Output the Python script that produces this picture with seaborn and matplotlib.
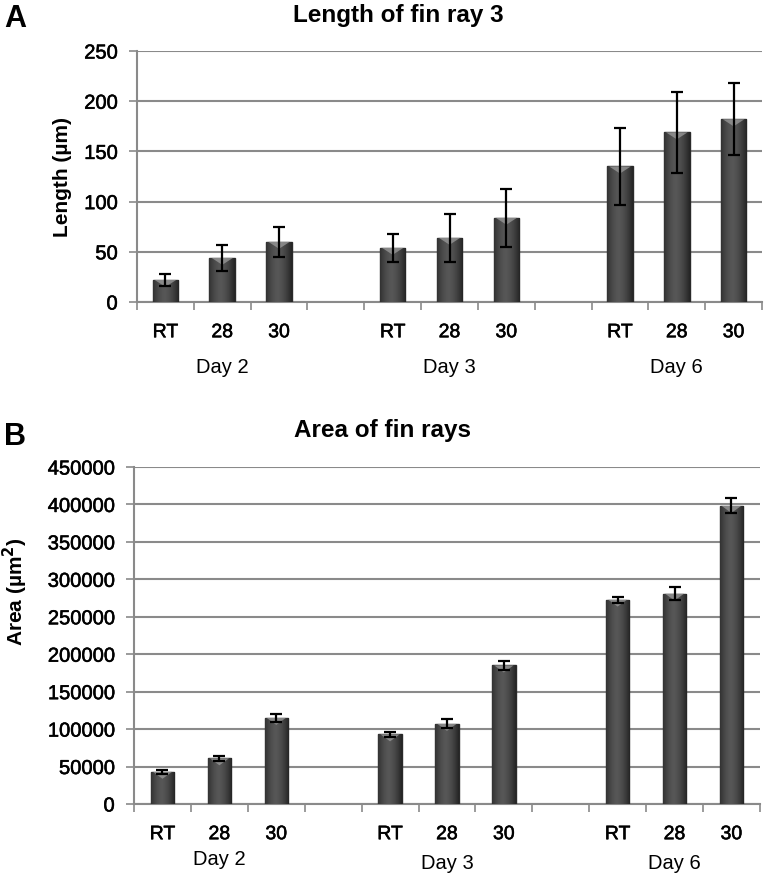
import matplotlib
matplotlib.use("Agg")
import matplotlib.pyplot as plt
import matplotlib.transforms as mtransforms
import matplotlib.patheffects as pe
from matplotlib.patches import Polygon
import seaborn as sns
import pandas as pd
import numpy as np

# ---- data ----
days = ["Day 2", "Day 3", "Day 6"]
temps = ["RT", "28", "30"]
length_mean = [22, 44, 60, 54, 64, 84, 135, 169, 182]
length_err = [6, 13, 15, 14, 24, 29, 38, 40, 36]
area_mean = [43000, 61000, 115000, 93000, 107000, 185000, 273000, 281000, 398000]
area_err = [3000, 3000, 5000, 3000, 6000, 6000, 4000, 9000, 10000]
length_ticks = [0, 50, 100, 150, 200, 250]
area_ticks = [0, 50000, 100000, 150000, 200000, 250000, 300000, 350000, 400000, 450000]

sns.set_theme(style="white")
plt.rcParams["font.family"] = ["Liberation Sans", "DejaVu Sans"]
plt.rcParams["text.color"] = "black"
plt.rcParams["xtick.labelcolor"] = "black"
plt.rcParams["ytick.labelcolor"] = "black"

heavy = [pe.withStroke(linewidth=0.4, foreground="black")]

# category order with empty gap slots between days
order = []
for i, d in enumerate(days):
    for t in temps:
        order.append(f"{d}|{t}")
    if i < len(days) - 1:
        order.append(f"gap{i}")

cats = [f"{d}|{t}" for d in days for t in temps]
df_len = pd.DataFrame({"cat": cats, "value": length_mean, "err": length_err})
df_area = pd.DataFrame({"cat": cats, "value": area_mean, "err": area_err})

fig = plt.figure(figsize=(7.66, 8.8), dpi=100)
ax1 = fig.add_axes([0.1789, 0.6568, 0.8159, 0.2852])
ax2 = fig.add_axes([0.175, 0.0864, 0.817, 0.3829])

bar_color = "#474747"
grid_color = "#8a8a8a"

# horizontal shading profile for the bars (dark edges, lighter middle)
xs = np.linspace(-1, 1, 64)
shade = np.clip(0.17 + 0.17 * (1 - np.abs(xs + 0.1) ** 1.6), 0, 1)
grad_img = np.stack([shade, shade, shade, np.ones_like(shade)], axis=-1)[None, :, :]


def shade_bars(ax):
    for p in list(ax.patches):
        h = p.get_height()
        if not np.isfinite(h) or h <= 0:
            continue
        x0, y0 = p.get_x(), p.get_y()
        w = p.get_width()
        im = ax.imshow(grad_img, extent=(x0, x0 + w, y0, y0 + h), aspect="auto",
                       interpolation="bilinear", zorder=3.1)
        im.set_clip_path(p)
        # light bevel wedge at top of each bar (in inch offsets from bar top)
        bw_in = w / (ax.get_xlim()[1] - ax.get_xlim()[0]) * ax.get_position().width * fig.get_figwidth()
        tr = fig.dpi_scale_trans + mtransforms.ScaledTranslation(x0 + w / 2, y0 + h, ax.transData)
        wedge = Polygon([(-bw_in / 2 + 0.02, 0), (bw_in / 2 - 0.02, 0), (0, -0.07)],
                        closed=True, transform=tr, facecolor="#a0a0a0",
                        edgecolor="none", alpha=0.7, zorder=3.2)
        ax.add_patch(wedge)
    ax.set_xlim(-0.5, len(order) - 0.5)


def draw(ax, df, ticks, width, ylabel, day_ys, ylabel_xy, ylabel_size):
    sns.barplot(data=df, x="cat", y="value", order=order, color=bar_color,
                width=width, edgecolor="#2a2a2a", linewidth=1.0, saturation=1,
                errorbar=None, ax=ax, zorder=3)
    ax.set_ylim(ticks[0], ticks[-1])
    ax.set_xlim(-0.5, len(order) - 0.5)
    pos = [order.index(c) for c in df["cat"]]
    shade_bars(ax)
    ax.set_ylim(ticks[0], ticks[-1])
    ax.errorbar(pos, df["value"], yerr=df["err"], fmt="none", ecolor="black",
                elinewidth=1.6, capsize=4.5, capthick=1.6, zorder=4)
    ax.set_yticks(ticks)
    ax.set_yticklabels([str(t) for t in ticks], fontsize=14.5)
    ax.yaxis.grid(True, color=grid_color, linewidth=1.5, zorder=0)
    ax.xaxis.grid(False)
    ax.set_axisbelow(True)
    for s in ["top", "right"]:
        ax.spines[s].set_visible(False)
    for s in ["left", "bottom"]:
        ax.spines[s].set_color(grid_color)
        ax.spines[s].set_linewidth(1.5)
    ax.tick_params(axis="y", length=6, width=1.2, color=grid_color, left=True, pad=8)
    ax.set_xticks(pos)
    ax.set_xticklabels([c.split("|")[1] for c in df["cat"]], fontsize=14)
    ax.tick_params(axis="x", which="major", length=0, pad=16)
    ax.set_xticks(np.arange(-0.5, len(order) + 0.5, 1.0), minor=True)
    ax.tick_params(axis="x", which="minor", length=6, width=1.2, color=grid_color, bottom=True)
    for lab in ax.get_xticklabels() + ax.get_yticklabels():
        lab.set_path_effects(heavy)
    ax.set_xlabel("")
    ax.set_ylabel("")
    trans = mtransforms.blended_transform_factory(ax.transData, ax.transAxes)
    for k, d in enumerate(days):
        centre = order.index(f"{d}|28")
        ax.text(centre, day_ys[k], d, transform=trans, ha="center", va="center",
                fontsize=14.5)
    ax.text(ylabel_xy[0], ylabel_xy[1], ylabel, transform=ax.transAxes, rotation=90,
            ha="center", va="center", fontsize=ylabel_size, fontweight="bold")


draw(ax1, df_len, length_ticks, 0.45, "Length (µm)",
     [-0.259, -0.259, -0.259], (-0.12, 0.5), 15)
draw(ax2, df_area, area_ticks, 0.41, "Area (µm$^{\\mathbf{2}}$)",
     [-0.166, -0.178, -0.178], (-0.19, 0.629), 15)

fig.text(398 / 766, 1 - 22 / 880, "Length of fin ray 3", fontsize=17.5,
         fontweight="bold", ha="center", va="baseline")
fig.text(383 / 766, 1 - 437 / 880, "Area of fin rays", fontsize=17.5,
         fontweight="bold", ha="center", va="baseline")
fig.text(4 / 766, 1 - 27 / 880, "A", fontsize=22, fontweight="bold",
         ha="left", va="baseline")
fig.text(4 / 766, 1 - 445 / 880, "B", fontsize=22, fontweight="bold",
         ha="left", va="baseline")

fig.savefig("out.png", dpi=100)
